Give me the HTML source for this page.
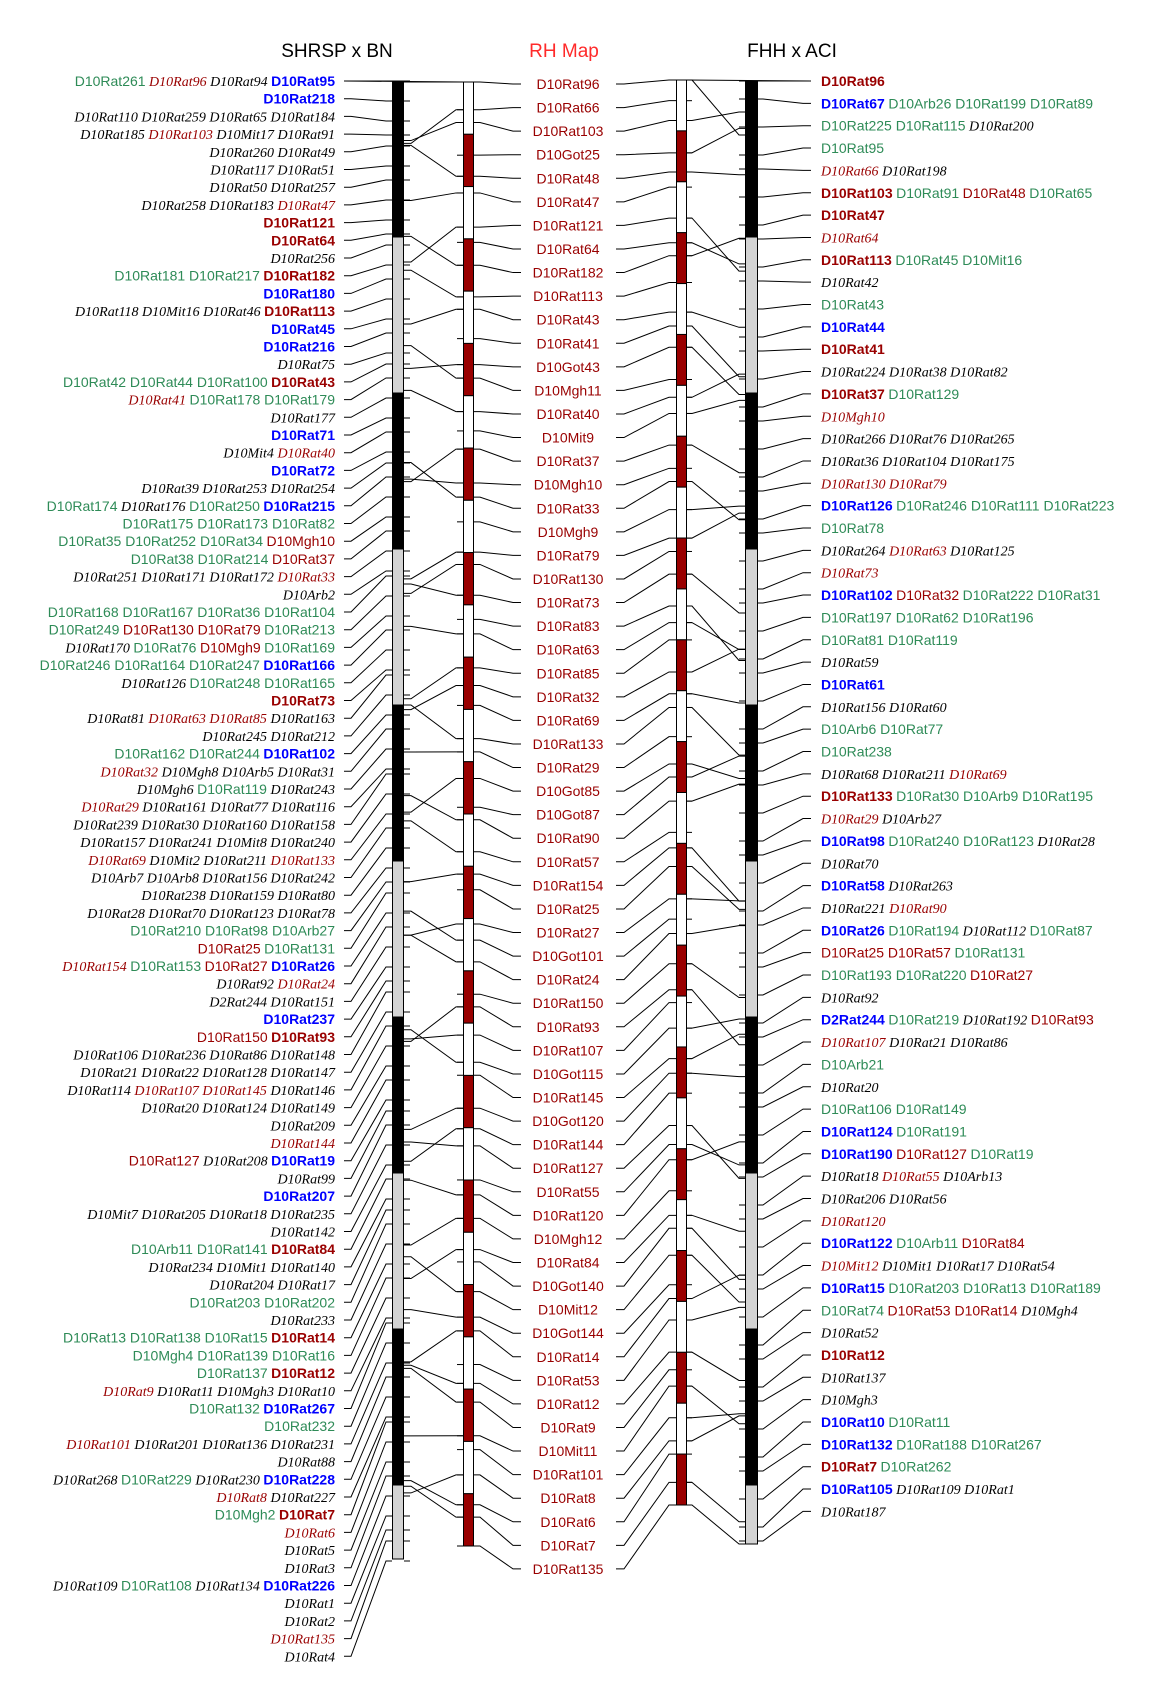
<!DOCTYPE html>
<html><head><meta charset="utf-8">
<style>
html,body{margin:0;padding:0;background:#fff;}
svg{display:block;}
text{font-size:14px;}
.g{font-family:"Liberation Sans",sans-serif;fill:#2e8b57;}
.r{font-family:"Liberation Serif",serif;font-style:italic;fill:#990000;}
.k{font-family:"Liberation Serif",serif;font-style:italic;fill:#000;}
.b{font-family:"Liberation Sans",sans-serif;font-weight:bold;fill:#0000ff;}
.R{font-family:"Liberation Sans",sans-serif;font-weight:bold;fill:#990000;}
.n{font-family:"Liberation Sans",sans-serif;fill:#990000;}
.t{font-family:"Liberation Sans",sans-serif;font-size:19px;fill:#000;}
</style></head>
<body>
<svg id="s" width="1159" height="1684" viewBox="0 0 1159 1684" xmlns="http://www.w3.org/2000/svg">
<g id="lines" stroke="#000" stroke-width="1" fill="none"></g>
<g id="bars"></g>
<text class="t" x="337" y="57" text-anchor="middle">SHRSP x BN</text>
<text class="t" x="564" y="57" text-anchor="middle" style="fill:#ff2a2a">RH Map</text>
<text class="t" x="792" y="57" text-anchor="middle">FHH x ACI</text>

<g text-anchor="end">
<text x="335" y="86.0"><tspan class="g">D10Rat261</tspan> <tspan class="r">D10Rat96</tspan> <tspan class="k">D10Rat94</tspan> <tspan class="b">D10Rat95</tspan></text>
<text x="335" y="103.7"><tspan class="b">D10Rat218</tspan></text>
<text x="335" y="121.4"><tspan class="k">D10Rat110 D10Rat259 D10Rat65 D10Rat184</tspan></text>
<text x="335" y="139.1"><tspan class="k">D10Rat185</tspan> <tspan class="r">D10Rat103</tspan> <tspan class="k">D10Mit17 D10Rat91</tspan></text>
<text x="335" y="156.8"><tspan class="k">D10Rat260 D10Rat49</tspan></text>
<text x="335" y="174.5"><tspan class="k">D10Rat117 D10Rat51</tspan></text>
<text x="335" y="192.2"><tspan class="k">D10Rat50 D10Rat257</tspan></text>
<text x="335" y="209.9"><tspan class="k">D10Rat258 D10Rat183</tspan> <tspan class="r">D10Rat47</tspan></text>
<text x="335" y="227.6"><tspan class="R">D10Rat121</tspan></text>
<text x="335" y="245.3"><tspan class="R">D10Rat64</tspan></text>
<text x="335" y="263.0"><tspan class="k">D10Rat256</tspan></text>
<text x="335" y="280.7"><tspan class="g">D10Rat181 D10Rat217</tspan> <tspan class="R">D10Rat182</tspan></text>
<text x="335" y="298.4"><tspan class="b">D10Rat180</tspan></text>
<text x="335" y="316.1"><tspan class="k">D10Rat118 D10Mit16 D10Rat46</tspan> <tspan class="R">D10Rat113</tspan></text>
<text x="335" y="333.8"><tspan class="b">D10Rat45</tspan></text>
<text x="335" y="351.5"><tspan class="b">D10Rat216</tspan></text>
<text x="335" y="369.2"><tspan class="k">D10Rat75</tspan></text>
<text x="335" y="386.9"><tspan class="g">D10Rat42 D10Rat44 D10Rat100</tspan> <tspan class="R">D10Rat43</tspan></text>
<text x="335" y="404.6"><tspan class="r">D10Rat41</tspan> <tspan class="g">D10Rat178 D10Rat179</tspan></text>
<text x="335" y="422.3"><tspan class="k">D10Rat177</tspan></text>
<text x="335" y="440.0"><tspan class="b">D10Rat71</tspan></text>
<text x="335" y="457.7"><tspan class="k">D10Mit4</tspan> <tspan class="r">D10Rat40</tspan></text>
<text x="335" y="475.4"><tspan class="b">D10Rat72</tspan></text>
<text x="335" y="493.1"><tspan class="k">D10Rat39 D10Rat253 D10Rat254</tspan></text>
<text x="335" y="510.8"><tspan class="g">D10Rat174</tspan> <tspan class="k">D10Rat176</tspan> <tspan class="g">D10Rat250</tspan> <tspan class="b">D10Rat215</tspan></text>
<text x="335" y="528.5"><tspan class="g">D10Rat175 D10Rat173 D10Rat82</tspan></text>
<text x="335" y="546.2"><tspan class="g">D10Rat35 D10Rat252 D10Rat34</tspan> <tspan class="n">D10Mgh10</tspan></text>
<text x="335" y="563.9"><tspan class="g">D10Rat38 D10Rat214</tspan> <tspan class="n">D10Rat37</tspan></text>
<text x="335" y="581.6"><tspan class="k">D10Rat251 D10Rat171 D10Rat172</tspan> <tspan class="r">D10Rat33</tspan></text>
<text x="335" y="599.3"><tspan class="k">D10Arb2</tspan></text>
<text x="335" y="617.0"><tspan class="g">D10Rat168 D10Rat167 D10Rat36 D10Rat104</tspan></text>
<text x="335" y="634.7"><tspan class="g">D10Rat249</tspan> <tspan class="n">D10Rat130 D10Rat79</tspan> <tspan class="g">D10Rat213</tspan></text>
<text x="335" y="652.4"><tspan class="k">D10Rat170</tspan> <tspan class="g">D10Rat76</tspan> <tspan class="n">D10Mgh9</tspan> <tspan class="g">D10Rat169</tspan></text>
<text x="335" y="670.1"><tspan class="g">D10Rat246 D10Rat164 D10Rat247</tspan> <tspan class="b">D10Rat166</tspan></text>
<text x="335" y="687.8"><tspan class="k">D10Rat126</tspan> <tspan class="g">D10Rat248 D10Rat165</tspan></text>
<text x="335" y="705.5"><tspan class="R">D10Rat73</tspan></text>
<text x="335" y="723.2"><tspan class="k">D10Rat81</tspan> <tspan class="r">D10Rat63 D10Rat85</tspan> <tspan class="k">D10Rat163</tspan></text>
<text x="335" y="740.9"><tspan class="k">D10Rat245 D10Rat212</tspan></text>
<text x="335" y="758.6"><tspan class="g">D10Rat162 D10Rat244</tspan> <tspan class="b">D10Rat102</tspan></text>
<text x="335" y="776.3"><tspan class="r">D10Rat32</tspan> <tspan class="k">D10Mgh8 D10Arb5 D10Rat31</tspan></text>
<text x="335" y="794.0"><tspan class="k">D10Mgh6</tspan> <tspan class="g">D10Rat119</tspan> <tspan class="k">D10Rat243</tspan></text>
<text x="335" y="811.7"><tspan class="r">D10Rat29</tspan> <tspan class="k">D10Rat161 D10Rat77 D10Rat116</tspan></text>
<text x="335" y="829.4"><tspan class="k">D10Rat239 D10Rat30 D10Rat160 D10Rat158</tspan></text>
<text x="335" y="847.1"><tspan class="k">D10Rat157 D10Rat241 D10Mit8 D10Rat240</tspan></text>
<text x="335" y="864.8"><tspan class="r">D10Rat69</tspan> <tspan class="k">D10Mit2 D10Rat211</tspan> <tspan class="r">D10Rat133</tspan></text>
<text x="335" y="882.5"><tspan class="k">D10Arb7 D10Arb8 D10Rat156 D10Rat242</tspan></text>
<text x="335" y="900.2"><tspan class="k">D10Rat238 D10Rat159 D10Rat80</tspan></text>
<text x="335" y="917.9"><tspan class="k">D10Rat28 D10Rat70 D10Rat123 D10Rat78</tspan></text>
<text x="335" y="935.6"><tspan class="g">D10Rat210 D10Rat98 D10Arb27</tspan></text>
<text x="335" y="953.3"><tspan class="n">D10Rat25</tspan> <tspan class="g">D10Rat131</tspan></text>
<text x="335" y="971.0"><tspan class="r">D10Rat154</tspan> <tspan class="g">D10Rat153</tspan> <tspan class="n">D10Rat27</tspan> <tspan class="b">D10Rat26</tspan></text>
<text x="335" y="988.7"><tspan class="k">D10Rat92</tspan> <tspan class="r">D10Rat24</tspan></text>
<text x="335" y="1006.4"><tspan class="k">D2Rat244 D10Rat151</tspan></text>
<text x="335" y="1024.1"><tspan class="b">D10Rat237</tspan></text>
<text x="335" y="1041.8"><tspan class="n">D10Rat150</tspan> <tspan class="R">D10Rat93</tspan></text>
<text x="335" y="1059.5"><tspan class="k">D10Rat106 D10Rat236 D10Rat86 D10Rat148</tspan></text>
<text x="335" y="1077.2"><tspan class="k">D10Rat21 D10Rat22 D10Rat128 D10Rat147</tspan></text>
<text x="335" y="1094.9"><tspan class="k">D10Rat114</tspan> <tspan class="r">D10Rat107 D10Rat145</tspan> <tspan class="k">D10Rat146</tspan></text>
<text x="335" y="1112.6"><tspan class="k">D10Rat20 D10Rat124 D10Rat149</tspan></text>
<text x="335" y="1130.3"><tspan class="k">D10Rat209</tspan></text>
<text x="335" y="1148.0"><tspan class="r">D10Rat144</tspan></text>
<text x="335" y="1165.7"><tspan class="n">D10Rat127</tspan> <tspan class="k">D10Rat208</tspan> <tspan class="b">D10Rat19</tspan></text>
<text x="335" y="1183.4"><tspan class="k">D10Rat99</tspan></text>
<text x="335" y="1201.1"><tspan class="b">D10Rat207</tspan></text>
<text x="335" y="1218.8"><tspan class="k">D10Mit7 D10Rat205 D10Rat18 D10Rat235</tspan></text>
<text x="335" y="1236.5"><tspan class="k">D10Rat142</tspan></text>
<text x="335" y="1254.2"><tspan class="g">D10Arb11 D10Rat141</tspan> <tspan class="R">D10Rat84</tspan></text>
<text x="335" y="1271.9"><tspan class="k">D10Rat234 D10Mit1 D10Rat140</tspan></text>
<text x="335" y="1289.6"><tspan class="k">D10Rat204 D10Rat17</tspan></text>
<text x="335" y="1307.3"><tspan class="g">D10Rat203 D10Rat202</tspan></text>
<text x="335" y="1325.0"><tspan class="k">D10Rat233</tspan></text>
<text x="335" y="1342.7"><tspan class="g">D10Rat13 D10Rat138 D10Rat15</tspan> <tspan class="R">D10Rat14</tspan></text>
<text x="335" y="1360.4"><tspan class="g">D10Mgh4 D10Rat139 D10Rat16</tspan></text>
<text x="335" y="1378.1"><tspan class="g">D10Rat137</tspan> <tspan class="R">D10Rat12</tspan></text>
<text x="335" y="1395.8"><tspan class="r">D10Rat9</tspan> <tspan class="k">D10Rat11 D10Mgh3 D10Rat10</tspan></text>
<text x="335" y="1413.5"><tspan class="g">D10Rat132</tspan> <tspan class="b">D10Rat267</tspan></text>
<text x="335" y="1431.2"><tspan class="g">D10Rat232</tspan></text>
<text x="335" y="1448.9"><tspan class="r">D10Rat101</tspan> <tspan class="k">D10Rat201 D10Rat136 D10Rat231</tspan></text>
<text x="335" y="1466.6"><tspan class="k">D10Rat88</tspan></text>
<text x="335" y="1484.3"><tspan class="k">D10Rat268</tspan> <tspan class="g">D10Rat229</tspan> <tspan class="k">D10Rat230</tspan> <tspan class="b">D10Rat228</tspan></text>
<text x="335" y="1502.0"><tspan class="r">D10Rat8</tspan> <tspan class="k">D10Rat227</tspan></text>
<text x="335" y="1519.7"><tspan class="g">D10Mgh2</tspan> <tspan class="R">D10Rat7</tspan></text>
<text x="335" y="1537.4"><tspan class="r">D10Rat6</tspan></text>
<text x="335" y="1555.1"><tspan class="k">D10Rat5</tspan></text>
<text x="335" y="1572.8"><tspan class="k">D10Rat3</tspan></text>
<text x="335" y="1590.5"><tspan class="k">D10Rat109</tspan> <tspan class="g">D10Rat108</tspan> <tspan class="k">D10Rat134</tspan> <tspan class="b">D10Rat226</tspan></text>
<text x="335" y="1608.2"><tspan class="k">D10Rat1</tspan></text>
<text x="335" y="1625.9"><tspan class="k">D10Rat2</tspan></text>
<text x="335" y="1643.6"><tspan class="r">D10Rat135</tspan></text>
<text x="335" y="1661.3"><tspan class="k">D10Rat4</tspan></text>
</g>

<g text-anchor="middle" class="n">
<text x="568" y="89.0">D10Rat96</text>
<text x="568" y="112.6">D10Rat66</text>
<text x="568" y="136.1">D10Rat103</text>
<text x="568" y="159.7">D10Got25</text>
<text x="568" y="183.3">D10Rat48</text>
<text x="568" y="206.9">D10Rat47</text>
<text x="568" y="230.4">D10Rat121</text>
<text x="568" y="254.0">D10Rat64</text>
<text x="568" y="277.6">D10Rat182</text>
<text x="568" y="301.1">D10Rat113</text>
<text x="568" y="324.7">D10Rat43</text>
<text x="568" y="348.3">D10Rat41</text>
<text x="568" y="371.8">D10Got43</text>
<text x="568" y="395.4">D10Mgh11</text>
<text x="568" y="419.0">D10Rat40</text>
<text x="568" y="442.6">D10Mit9</text>
<text x="568" y="466.1">D10Rat37</text>
<text x="568" y="489.7">D10Mgh10</text>
<text x="568" y="513.3">D10Rat33</text>
<text x="568" y="536.8">D10Mgh9</text>
<text x="568" y="560.4">D10Rat79</text>
<text x="568" y="584.0">D10Rat130</text>
<text x="568" y="607.5">D10Rat73</text>
<text x="568" y="631.1">D10Rat83</text>
<text x="568" y="654.7">D10Rat63</text>
<text x="568" y="678.3">D10Rat85</text>
<text x="568" y="701.8">D10Rat32</text>
<text x="568" y="725.4">D10Rat69</text>
<text x="568" y="749.0">D10Rat133</text>
<text x="568" y="772.5">D10Rat29</text>
<text x="568" y="796.1">D10Got85</text>
<text x="568" y="819.7">D10Got87</text>
<text x="568" y="843.2">D10Rat90</text>
<text x="568" y="866.8">D10Rat57</text>
<text x="568" y="890.4">D10Rat154</text>
<text x="568" y="914.0">D10Rat25</text>
<text x="568" y="937.5">D10Rat27</text>
<text x="568" y="961.1">D10Got101</text>
<text x="568" y="984.7">D10Rat24</text>
<text x="568" y="1008.2">D10Rat150</text>
<text x="568" y="1031.8">D10Rat93</text>
<text x="568" y="1055.4">D10Rat107</text>
<text x="568" y="1078.9">D10Got115</text>
<text x="568" y="1102.5">D10Rat145</text>
<text x="568" y="1126.1">D10Got120</text>
<text x="568" y="1149.7">D10Rat144</text>
<text x="568" y="1173.2">D10Rat127</text>
<text x="568" y="1196.8">D10Rat55</text>
<text x="568" y="1220.4">D10Rat120</text>
<text x="568" y="1243.9">D10Mgh12</text>
<text x="568" y="1267.5">D10Rat84</text>
<text x="568" y="1291.1">D10Got140</text>
<text x="568" y="1314.6">D10Mit12</text>
<text x="568" y="1338.2">D10Got144</text>
<text x="568" y="1361.8">D10Rat14</text>
<text x="568" y="1385.4">D10Rat53</text>
<text x="568" y="1408.9">D10Rat12</text>
<text x="568" y="1432.5">D10Rat9</text>
<text x="568" y="1456.1">D10Mit11</text>
<text x="568" y="1479.6">D10Rat101</text>
<text x="568" y="1503.2">D10Rat8</text>
<text x="568" y="1526.8">D10Rat6</text>
<text x="568" y="1550.3">D10Rat7</text>
<text x="568" y="1573.9">D10Rat135</text>
</g>

<g text-anchor="start">
<text x="821" y="86.0"><tspan class="R">D10Rat96</tspan></text>
<text x="821" y="108.4"><tspan class="b">D10Rat67</tspan> <tspan class="g">D10Arb26 D10Rat199 D10Rat89</tspan></text>
<text x="821" y="130.7"><tspan class="g">D10Rat225 D10Rat115</tspan> <tspan class="k">D10Rat200</tspan></text>
<text x="821" y="153.1"><tspan class="g">D10Rat95</tspan></text>
<text x="821" y="175.4"><tspan class="r">D10Rat66</tspan> <tspan class="k">D10Rat198</tspan></text>
<text x="821" y="197.8"><tspan class="R">D10Rat103</tspan> <tspan class="g">D10Rat91</tspan> <tspan class="n">D10Rat48</tspan> <tspan class="g">D10Rat65</tspan></text>
<text x="821" y="220.1"><tspan class="R">D10Rat47</tspan></text>
<text x="821" y="242.5"><tspan class="r">D10Rat64</tspan></text>
<text x="821" y="264.8"><tspan class="R">D10Rat113</tspan> <tspan class="g">D10Rat45 D10Mit16</tspan></text>
<text x="821" y="287.2"><tspan class="k">D10Rat42</tspan></text>
<text x="821" y="309.5"><tspan class="g">D10Rat43</tspan></text>
<text x="821" y="331.9"><tspan class="b">D10Rat44</tspan></text>
<text x="821" y="354.2"><tspan class="R">D10Rat41</tspan></text>
<text x="821" y="376.6"><tspan class="k">D10Rat224 D10Rat38 D10Rat82</tspan></text>
<text x="821" y="398.9"><tspan class="R">D10Rat37</tspan> <tspan class="g">D10Rat129</tspan></text>
<text x="821" y="421.3"><tspan class="r">D10Mgh10</tspan></text>
<text x="821" y="443.6"><tspan class="k">D10Rat266 D10Rat76 D10Rat265</tspan></text>
<text x="821" y="466.0"><tspan class="k">D10Rat36 D10Rat104 D10Rat175</tspan></text>
<text x="821" y="488.3"><tspan class="r">D10Rat130 D10Rat79</tspan></text>
<text x="821" y="510.7"><tspan class="b">D10Rat126</tspan> <tspan class="g">D10Rat246 D10Rat111 D10Rat223</tspan></text>
<text x="821" y="533.0"><tspan class="g">D10Rat78</tspan></text>
<text x="821" y="555.4"><tspan class="k">D10Rat264</tspan> <tspan class="r">D10Rat63</tspan> <tspan class="k">D10Rat125</tspan></text>
<text x="821" y="577.7"><tspan class="r">D10Rat73</tspan></text>
<text x="821" y="600.1"><tspan class="b">D10Rat102</tspan> <tspan class="n">D10Rat32</tspan> <tspan class="g">D10Rat222 D10Rat31</tspan></text>
<text x="821" y="622.4"><tspan class="g">D10Rat197 D10Rat62 D10Rat196</tspan></text>
<text x="821" y="644.8"><tspan class="g">D10Rat81 D10Rat119</tspan></text>
<text x="821" y="667.1"><tspan class="k">D10Rat59</tspan></text>
<text x="821" y="689.5"><tspan class="b">D10Rat61</tspan></text>
<text x="821" y="711.8"><tspan class="k">D10Rat156 D10Rat60</tspan></text>
<text x="821" y="734.2"><tspan class="g">D10Arb6 D10Rat77</tspan></text>
<text x="821" y="756.5"><tspan class="g">D10Rat238</tspan></text>
<text x="821" y="778.9"><tspan class="k">D10Rat68 D10Rat211</tspan> <tspan class="r">D10Rat69</tspan></text>
<text x="821" y="801.2"><tspan class="R">D10Rat133</tspan> <tspan class="g">D10Rat30 D10Arb9 D10Rat195</tspan></text>
<text x="821" y="823.6"><tspan class="r">D10Rat29</tspan> <tspan class="k">D10Arb27</tspan></text>
<text x="821" y="845.9"><tspan class="b">D10Rat98</tspan> <tspan class="g">D10Rat240 D10Rat123</tspan> <tspan class="k">D10Rat28</tspan></text>
<text x="821" y="868.3"><tspan class="k">D10Rat70</tspan></text>
<text x="821" y="890.6"><tspan class="b">D10Rat58</tspan> <tspan class="k">D10Rat263</tspan></text>
<text x="821" y="913.0"><tspan class="k">D10Rat221</tspan> <tspan class="r">D10Rat90</tspan></text>
<text x="821" y="935.3"><tspan class="b">D10Rat26</tspan> <tspan class="g">D10Rat194</tspan> <tspan class="k">D10Rat112</tspan> <tspan class="g">D10Rat87</tspan></text>
<text x="821" y="957.7"><tspan class="n">D10Rat25 D10Rat57</tspan> <tspan class="g">D10Rat131</tspan></text>
<text x="821" y="980.0"><tspan class="g">D10Rat193 D10Rat220</tspan> <tspan class="n">D10Rat27</tspan></text>
<text x="821" y="1002.4"><tspan class="k">D10Rat92</tspan></text>
<text x="821" y="1024.7"><tspan class="b">D2Rat244</tspan> <tspan class="g">D10Rat219</tspan> <tspan class="k">D10Rat192</tspan> <tspan class="n">D10Rat93</tspan></text>
<text x="821" y="1047.1"><tspan class="r">D10Rat107</tspan> <tspan class="k">D10Rat21 D10Rat86</tspan></text>
<text x="821" y="1069.4"><tspan class="g">D10Arb21</tspan></text>
<text x="821" y="1091.8"><tspan class="k">D10Rat20</tspan></text>
<text x="821" y="1114.1"><tspan class="g">D10Rat106 D10Rat149</tspan></text>
<text x="821" y="1136.5"><tspan class="b">D10Rat124</tspan> <tspan class="g">D10Rat191</tspan></text>
<text x="821" y="1158.8"><tspan class="b">D10Rat190</tspan> <tspan class="n">D10Rat127</tspan> <tspan class="g">D10Rat19</tspan></text>
<text x="821" y="1181.2"><tspan class="k">D10Rat18</tspan> <tspan class="r">D10Rat55</tspan> <tspan class="k">D10Arb13</tspan></text>
<text x="821" y="1203.5"><tspan class="k">D10Rat206 D10Rat56</tspan></text>
<text x="821" y="1225.9"><tspan class="r">D10Rat120</tspan></text>
<text x="821" y="1248.2"><tspan class="b">D10Rat122</tspan> <tspan class="g">D10Arb11</tspan> <tspan class="n">D10Rat84</tspan></text>
<text x="821" y="1270.6"><tspan class="r">D10Mit12</tspan> <tspan class="k">D10Mit1 D10Rat17 D10Rat54</tspan></text>
<text x="821" y="1292.9"><tspan class="b">D10Rat15</tspan> <tspan class="g">D10Rat203 D10Rat13 D10Rat189</tspan></text>
<text x="821" y="1315.3"><tspan class="g">D10Rat74</tspan> <tspan class="n">D10Rat53 D10Rat14</tspan> <tspan class="k">D10Mgh4</tspan></text>
<text x="821" y="1337.6"><tspan class="k">D10Rat52</tspan></text>
<text x="821" y="1360.0"><tspan class="R">D10Rat12</tspan></text>
<text x="821" y="1382.3"><tspan class="k">D10Rat137</tspan></text>
<text x="821" y="1404.7"><tspan class="k">D10Mgh3</tspan></text>
<text x="821" y="1427.0"><tspan class="b">D10Rat10</tspan> <tspan class="g">D10Rat11</tspan></text>
<text x="821" y="1449.4"><tspan class="b">D10Rat132</tspan> <tspan class="g">D10Rat188 D10Rat267</tspan></text>
<text x="821" y="1471.7"><tspan class="R">D10Rat7</tspan> <tspan class="g">D10Rat262</tspan></text>
<text x="821" y="1494.1"><tspan class="b">D10Rat105</tspan> <tspan class="k">D10Rat109 D10Rat1</tspan></text>
<text x="821" y="1516.4"><tspan class="k">D10Rat187</tspan></text>
</g>
</svg>
<script>
(function(){
var NS="http://www.w3.org/2000/svg";
var L=document.getElementById("lines"), B=document.getElementById("bars");
function pl(pts){var p=document.createElementNS(NS,"polyline");p.setAttribute("points",pts.map(function(a){return a[0]+","+a[1];}).join(" "));L.appendChild(p);}
function rect(x,y,w,h,f){var r=document.createElementNS(NS,"rect");r.setAttribute("x",x);r.setAttribute("y",y);r.setAttribute("width",w);r.setAttribute("height",h);r.setAttribute("fill",f);r.setAttribute("stroke","#000");r.setAttribute("stroke-width","1");B.appendChild(r);}
var i,ly,my;
// SHRSP left labels
var sm=[];
for(i=0;i<90;i++){ly=81+17.7*i;my=81+(1559-81)*i/89;my=Math.round(my/9)*9+(i%3)*2;if(i==0)my=81;sm.push(my);
 pl([[344,ly],[351,ly],[386,my],[392,my]]);pl([[404,my],[410,my]]);}
pl([[344,81],[463,82]]);
// RH
var r1=[],r2=[];
for(i=0;i<64;i++){ly=84+23.57*i;var a=82+(1546-82)*i/63+6*Math.sin(i*2.3);var b=80+(1505-80)*i/63+6*Math.cos(i*1.9);if(i==0){a=82;b=80;}if(i==63){a=1546;b=1505;}
 r1.push(a);r2.push(b);
 pl([[474,a],[480,a],[513,ly],[521,ly]]);pl([[457,a],[463,a]]);
 pl([[616,ly],[624,ly],[669,b],[676,b]]);pl([[686,b],[692,b]]);}
// cross SHRSP->RH1
for(i=0;i<64;i++){if(i%4==3)continue;var a2=r1[i];var s=a2+35*Math.sin(i*1.3);s=Math.max(81,Math.min(1559,s));pl([[404,s],[411,s],[456,a2],[463,a2]]);}
// FHH
var fm=[];
for(i=0;i<65;i++){ly=81+22.35*i;var f=81+(1544-81)*i/64;f=Math.round(f/14)*14+1;if(i==0)f=81;fm.push(f);
 pl([[758,f],[763,f],[803,ly],[811,ly]]);pl([[739,f],[745,f]]);}
pl([[686,80],[811,81]]);
// cross RH2->FHH
for(i=0;i<64;i++){if(i%4==1)continue;var b2=r2[i];var t=b2+40*Math.cos(i*1.1)+15;t=Math.max(81,Math.min(1544,t));pl([[686,b2],[692,b2],[739,t],[745,t]]);}
// bars
var st=156;
for(i=0;i<10;i++){var y0=81+st*i,y1=Math.min(81+st*(i+1),1559);rect(392.5,y0,11,y1-y0,i%2?"#d3d3d3":"#000");}
for(i=0;i<10;i++){var y0=81+st*i,y1=Math.min(81+st*(i+1),1544);if(y1>y0)rect(745.5,y0,12,y1-y0,i%2?"#d3d3d3":"#000");}
var s1=(1546-82)/28;for(i=0;i<28;i++)rect(463.5,82+s1*i,10,s1,i%2?"#990000":"#fff");
var s2=(1505-80)/28;for(i=0;i<28;i++)rect(676.5,80+s2*i,10,s2,i%2?"#990000":"#fff");
})();
</script>
</body></html>
